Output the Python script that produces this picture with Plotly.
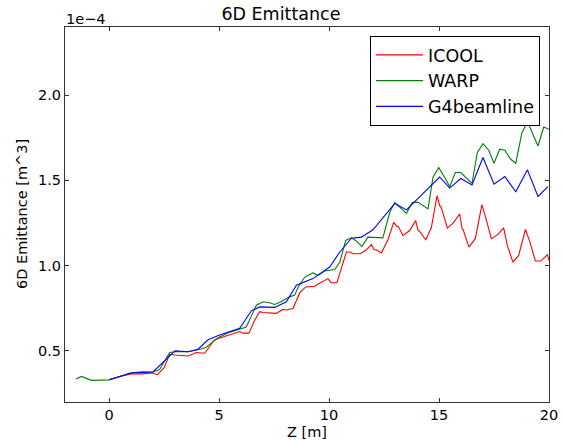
import plotly.graph_objects as go

# Values in units of 1e-4 m^3
warp_z = [-1.5, -1.25, -0.8, 0.0, 0.5, 1.0, 1.5, 2.0, 2.3, 2.76, 3.0, 3.6, 4.05, 4.4, 4.8, 5.0, 5.5,
          5.94, 6.24, 6.7, 7.0, 7.3, 7.53, 7.84, 8.14, 8.44, 8.6, 8.9, 9.27, 9.5, 9.8, 10.26, 10.49,
          10.76, 11.02, 11.21, 11.5, 11.77, 12.45, 12.76, 12.99, 13.52, 13.79, 14.05, 14.5, 14.73,
          14.99, 15.26, 15.49, 15.74, 15.99, 16.5, 16.74, 17.0, 17.26, 17.5, 17.76, 17.99, 18.26,
          18.49, 18.77, 19.02, 19.5, 19.76, 20.0]
warp_v = [0.335, 0.35, 0.327, 0.33, 0.35, 0.372, 0.377, 0.376, 0.39, 0.49, 0.495, 0.495, 0.506, 0.52,
          0.56, 0.58, 0.61, 0.627, 0.64, 0.768, 0.788, 0.782, 0.772, 0.79, 0.813, 0.827, 0.875, 0.933,
          0.957, 0.943, 0.969, 0.977, 1.02, 1.148, 1.163, 1.148, 1.113, 1.167, 1.163, 1.313, 1.37,
          1.307, 1.371, 1.371, 1.333, 1.52, 1.575, 1.517, 1.463, 1.546, 1.546, 1.482, 1.663, 1.715,
          1.677, 1.601, 1.683, 1.677, 1.624, 1.601, 1.78, 1.844, 1.702, 1.813, 1.80]

g4_z = [0.0, 1.0, 1.5, 2.0, 3.0, 3.6, 4.05, 4.5, 5.03, 5.94, 6.47, 6.85, 7.53, 8.06, 8.52, 9.27,
        10.03, 10.49, 11.02, 11.47, 12.0, 12.99, 13.52, 14.0, 14.5, 15.03, 15.49, 15.99, 16.5,
        17.0, 17.5, 17.99, 18.49, 19.02, 19.5, 19.95]
g4_v = [0.33, 0.37, 0.373, 0.376, 0.50, 0.495, 0.51, 0.565, 0.593, 0.632, 0.735, 0.758, 0.755,
        0.788, 0.885, 0.924, 0.992, 1.08, 1.161, 1.167, 1.21, 1.365, 1.327, 1.39, 1.455, 1.52,
        1.455, 1.511, 1.473, 1.634, 1.478, 1.523, 1.433, 1.562, 1.406, 1.463]

icool_z = [0.0, 0.5, 1.0, 1.5, 2.0, 2.2, 2.5, 2.76, 3.0, 3.6, 3.97, 4.35, 4.8, 5.03, 5.5, 5.94,
           6.09, 6.36, 6.62, 6.85, 7.0, 7.6, 7.9, 8.06, 8.36, 8.67, 8.94, 9.35, 9.55, 9.95, 10.1,
           10.36, 10.79, 10.94, 11.1, 11.43, 11.7, 11.93, 12.05, 12.15, 12.38, 12.68, 12.94, 13.09,
           13.15, 13.36, 13.67, 13.94, 14.05, 14.1, 14.4, 14.65, 14.91, 15.03, 15.1, 15.38, 15.64,
           15.94, 16.05, 16.1, 16.36, 16.65, 16.95, 17.08, 17.12, 17.38, 17.68, 17.94, 18.06, 18.1,
           18.36, 18.62, 18.93, 19.12, 19.38, 19.62, 19.93, 20.0]
icool_v = [0.33, 0.35, 0.365, 0.365, 0.37, 0.36, 0.40, 0.48, 0.476, 0.47, 0.49, 0.486, 0.565, 0.574,
           0.595, 0.613, 0.604, 0.604, 0.68, 0.73, 0.725, 0.72, 0.743, 0.74, 0.749, 0.84, 0.875,
           0.879, 0.895, 0.924, 0.9, 0.9, 1.08, 1.08, 1.07, 1.07, 1.093, 1.124, 1.093, 1.093, 1.074,
           1.152, 1.254, 1.23, 1.23, 1.177, 1.206, 1.264, 1.206, 1.203, 1.152, 1.222, 1.41, 1.352,
           1.342, 1.22, 1.249, 1.303, 1.216, 1.21, 1.109, 1.158, 1.358, 1.288, 1.283, 1.158, 1.183,
           1.222, 1.128, 1.12, 1.021, 1.06, 1.212, 1.144, 1.027, 1.027, 1.064, 1.03]

x_ticks = [0, 5, 10, 15, 20]
y_ticks = [0.5, 1.0, 1.5, 2.0]
y_tick_text = ["0.5", "1.0", "1.5", "2.0"]

FONT = "DejaVu Sans"
W, H = 563, 443
L, R, T, B = 65, 549, 27, 402


def px(xp):
    return (xp - L) / (R - L)


def py(yp):
    return (B - yp) / (B - T)


fig = go.Figure()
fig.add_trace(go.Scatter(x=icool_z, y=icool_v, mode="lines", name="ICOOL",
                         line=dict(color="#ff0000", width=1.1)))
fig.add_trace(go.Scatter(x=warp_z, y=warp_v, mode="lines", name="WARP",
                         line=dict(color="#008000", width=1.1)))
fig.add_trace(go.Scatter(x=g4_z, y=g4_v, mode="lines", name="G4beamline",
                         line=dict(color="#0000ff", width=1.1)))

axis_common = dict(showgrid=False, zeroline=False, showline=True, linecolor="#333333", linewidth=1,
                   mirror="ticks", ticks="inside", ticklen=4, tickwidth=1, tickcolor="#333333",
                   automargin=False,
                   tickfont=dict(family=FONT, size=14.5, color="black"))

fig.update_layout(
    width=W, height=H,
    margin=dict(l=L, r=W - R, t=T, b=H - B, pad=0, autoexpand=False),
    paper_bgcolor="white", plot_bgcolor="white",
    font=dict(family=FONT, color="black"),
    title=dict(text="6D Emittance", x=px(306.5), xanchor="center", y=1 - 14 / H, yanchor="middle",
               font=dict(family=FONT, size=17.5, color="black")),
    xaxis=dict(range=[-2, 20], tickvals=x_ticks, **axis_common),
    yaxis=dict(range=[0.2, 2.4], tickvals=y_ticks, ticktext=y_tick_text, **axis_common),
    legend=dict(x=px(540), xanchor="right", y=py(36), yanchor="top",
                bgcolor="white", bordercolor="black", borderwidth=1,
                font=dict(family=FONT, size=17.5, color="black"),
                itemwidth=47, tracegroupgap=0),
    showlegend=True,
    annotations=[
        dict(text="Z [m]", x=px(307), y=py(432), xref="paper", yref="paper", showarrow=False,
             xanchor="center", yanchor="middle", font=dict(family=FONT, size=14.5, color="black")),
        dict(text="6D Emittance [m^3]", x=px(22), y=py(214), xref="paper", yref="paper",
             showarrow=False, textangle=-90, xanchor="center", yanchor="middle",
             font=dict(family=FONT, size=14.5, color="black")),
        dict(text="1e\u22124", x=px(64), y=py(18.5), xref="paper", yref="paper", showarrow=False,
             xanchor="left", yanchor="middle", font=dict(family=FONT, size=14.5, color="black")),
    ],
)

fig.write_html("out.html")
